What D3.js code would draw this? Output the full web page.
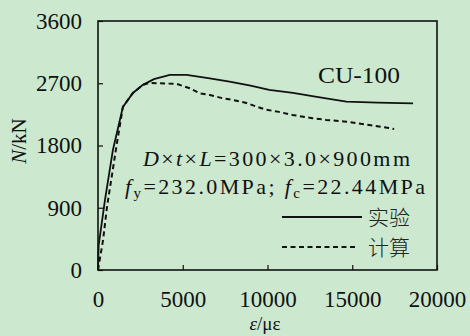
<!DOCTYPE html>
<html>
<head>
<meta charset="utf-8">
<script src="https://cdn.jsdelivr.net/npm/d3@7"></script>
<style>
  html, body { margin: 0; padding: 0; background: #cce8cf; }
  svg { display: block; }
</style>
</head>
<body>
<svg id="chart" width="470" height="336"></svg>
<script>
// ---- data ----
const expStrain = [0, 40, 412, 880, 1470, 2060, 2650, 3300, 4240, 5230, 6500, 7760, 9000, 10100, 11500, 13000, 14650, 16500, 18590];
const expLoad   = [0, 360, 1013, 1736, 2358, 2560, 2677, 2760, 2820, 2820, 2775, 2724, 2665, 2604, 2560, 2500, 2433, 2420, 2410];
const calStrain = [0, 300, 530, 1120, 1470, 2060, 2650, 3060, 4650, 5410, 6000, 6590, 7350, 7940, 8760, 9350, 9940, 10590, 11470, 12650, 13470, 14650, 16000, 17470];
const calLoad   = [0, 434, 911, 1838, 2358, 2560, 2677, 2705, 2690, 2627, 2555, 2531, 2483, 2459, 2415, 2362, 2316, 2290, 2242, 2194, 2170, 2145, 2097, 2040];
const xTicks = [0, 5000, 10000, 15000, 20000];
const yTicks = [0, 900, 1800, 2700, 3600];
const seriesNames = ["实验", "计算"];
const specimen = "CU-100";

const svg = d3.select("#chart");

// ---- pick an installed serif face ----
function widthOf(fam) {
  const t = svg.append("text").attr("x", -1000).attr("y", -1000)
    .style("font-family", fam).style("font-size", "40px").text("mmmwwwiiilll0123456789");
  const w = t.node().getComputedTextLength();
  t.remove();
  return w;
}
const candidates = ["Liberation Serif", "Times New Roman", "Tinos", "DejaVu Serif", "Noto Serif",
  "FreeSerif", "Nimbus Roman", "Nimbus Roman No9 L", "Noto Serif CJK SC", "Source Han Serif SC",
  "STIX Two Text", "Gelasio", "Droid Serif", "Times"];
const baseMono = widthOf("monospace");
let picked = null;
for (const c of candidates) {
  if (Math.abs(widthOf(`"${c}", monospace`) - baseMono) > 0.5) { picked = c; break; }
}
const SERIF = picked ? `"${picked}", serif` : "serif";

// ---- layout ----
const L = 98, R = 437, T = 21, B = 270;
const x = d3.scaleLinear().domain([0, 20000]).range([L, R]);
const y = d3.scaleLinear().domain([0, 3600]).range([B, T]);
const FONT = 23;

// axes
const xAxis = d3.axisBottom(x).tickValues(xTicks).tickSizeInner(-5).tickSizeOuter(0).tickPadding(21).tickFormat(d3.format("d"));
const yAxis = d3.axisLeft(y).tickValues(yTicks).tickSizeInner(-5).tickSizeOuter(0).tickPadding(16).tickFormat(d3.format("d"));

const gx = svg.append("g").attr("transform", `translate(0,${B})`).call(xAxis);
const gy = svg.append("g").attr("transform", `translate(${L},0)`).call(yAxis);
[gx, gy].forEach(g => {
  g.attr("font-family", null).attr("font-size", null);
  g.select(".domain").remove();
  g.selectAll("line").attr("stroke", "#111").attr("stroke-width", 1.2);
  g.selectAll("text").style("font-family", SERIF)
    .style("font-size", FONT + "px").attr("fill", "#111");
});

// frame
svg.append("rect").attr("x", L).attr("y", T).attr("width", R - L).attr("height", B - T)
  .attr("fill", "none").attr("stroke", "#111").attr("stroke-width", 1.6);

// lines
const line = d3.line().x(d => x(d[0])).y(d => y(d[1]));
const expData = expStrain.map((s, i) => [s, expLoad[i]]);
const calData = calStrain.map((s, i) => [s, calLoad[i]]);

svg.append("path").datum(calData).attr("d", line)
  .attr("fill", "none").attr("stroke", "#111").attr("stroke-width", 2).attr("stroke-dasharray", "5,3.5");
svg.append("path").datum(expData).attr("d", line)
  .attr("fill", "none").attr("stroke", "#111").attr("stroke-width", 1.8);

function txt(sel) { return sel.style("font-family", SERIF).attr("fill", "#111"); }

// axis titles
const yt = txt(svg.append("text")).attr("transform", "translate(26,141) rotate(-90)")
  .attr("text-anchor", "middle").style("font-size", "21px");
yt.append("tspan").style("font-style", "italic").text("N");
yt.append("tspan").text("/kN");

const xt = txt(svg.append("text")).attr("x", 265).attr("y", 330)
  .attr("text-anchor", "middle").style("font-size", "19px");
xt.append("tspan").style("font-style", "italic").text("ε");
xt.append("tspan").text("/με");

// annotations
txt(svg.append("text")).attr("x", 318).attr("y", 83).style("font-size", "23px")
  .attr("textLength", 82).attr("lengthAdjust", "spacingAndGlyphs").text(specimen);

const a1 = txt(svg.append("text")).attr("x", 143).attr("y", 166).style("font-size", "22px")
  .attr("textLength", 267).attr("lengthAdjust", "spacing");
a1.append("tspan").style("font-style", "italic").text("D");
a1.append("tspan").text("×");
a1.append("tspan").style("font-style", "italic").text("t");
a1.append("tspan").text("×");
a1.append("tspan").style("font-style", "italic").text("L");
a1.append("tspan").text("=300×3.0×900mm");

const a2 = txt(svg.append("text")).attr("x", 125).attr("y", 194).style("font-size", "22px")
  .attr("textLength", 300).attr("lengthAdjust", "spacing");
a2.append("tspan").style("font-style", "italic").text("f");
a2.append("tspan").style("font-size", "15px").attr("dy", 4).text("y");
a2.append("tspan").attr("dy", -4).text("=232.0MPa; ");
a2.append("tspan").style("font-style", "italic").text("f");
a2.append("tspan").style("font-size", "15px").attr("dy", 4).text("c");
a2.append("tspan").attr("dy", -4).text("=22.44MPa");

// legend
const leg = [
  { name: seriesNames[0], yy: 217, dash: null, x2: 362 },
  { name: seriesNames[1], yy: 247, dash: "5,3.5", x2: 357 }
];
leg.forEach(d => {
  svg.append("line").attr("x1", 282).attr("x2", d.x2).attr("y1", d.yy).attr("y2", d.yy)
    .attr("stroke", "#111").attr("stroke-width", d.dash ? 2 : 1.8)
    .attr("stroke-dasharray", d.dash);
  svg.append("text").attr("x", 368).attr("y", d.yy + 8)
    .style("font-family", '"Noto Sans CJK SC", sans-serif').style("font-size", "21px")
    .style("font-weight", 300).attr("fill", "#222").text(d.name);
});
</script>
</body>
</html>
